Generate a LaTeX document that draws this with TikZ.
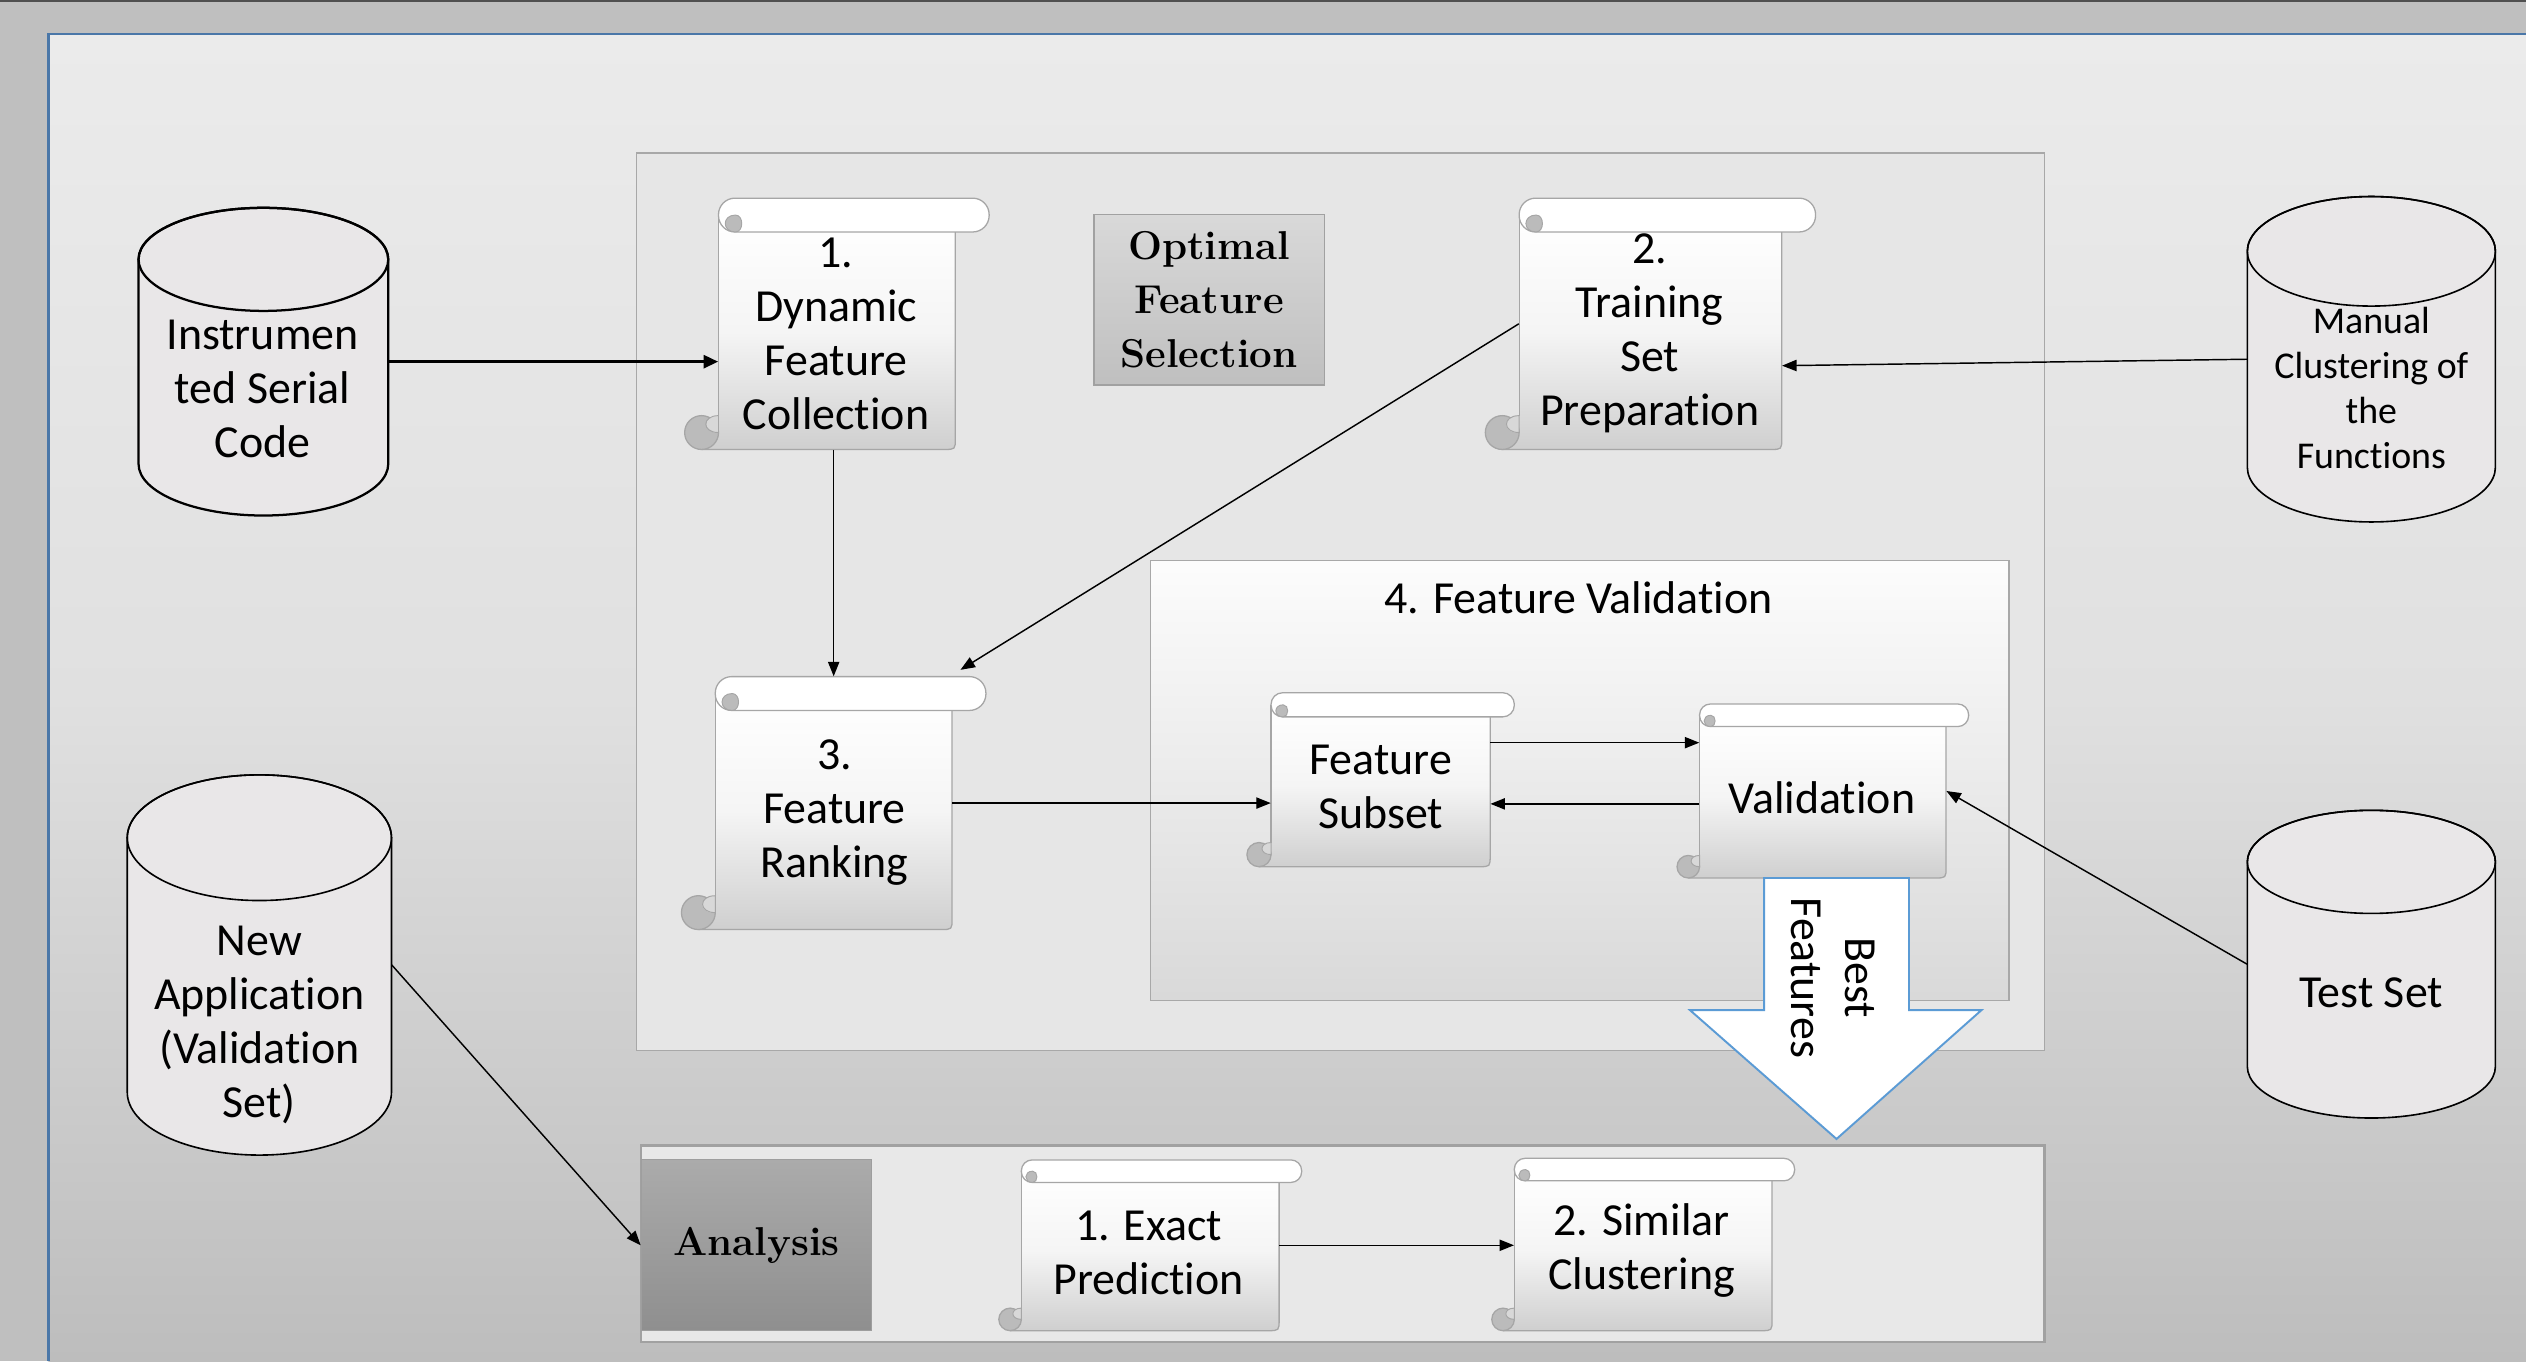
\documentclass[tikz,border=0pt]{standalone}
\usepackage{fontspec}
\newfontfamily\calfont[Ligatures={NoCommon}]{Carlito}
\usetikzlibrary{arrows.meta,calc}

\definecolor{wingray}{HTML}{BFBFBF}
\definecolor{topbar}{HTML}{505050}
\definecolor{slideblue}{HTML}{4A77A8}
\definecolor{slidetop}{HTML}{EBEBEB}
\definecolor{slidemid}{HTML}{E0E0E0}
\definecolor{slidebot}{HTML}{BDBDBD}
\definecolor{boxfill}{HTML}{E6E6E6}
\definecolor{boxline}{HTML}{A8A8A8}
\definecolor{scrolledge}{HTML}{A6A6A6}
\definecolor{scrollbot}{HTML}{CFCFCF}
\definecolor{curlfill}{HTML}{BBBBBB}
\definecolor{curlear}{HTML}{D8D8D8}
\definecolor{cylfill}{HTML}{E9E7E8}
\definecolor{arrowblue}{HTML}{5B9BD5}

\tikzset{
  conn/.style={draw=black, line width=0.9pt, -{Triangle[length=9pt,width=7pt]}},
  bigconn/.style={draw=black, line width=1.8pt, -{Triangle[length=9pt,width=8pt]}},
  sans/.style={font=\calfont\fontsize{28.5}{33.5}\selectfont, align=center, inner sep=0pt},
  smallsans/.style={font=\calfont\fontsize{23.5}{28}\selectfont, align=center, inner sep=0pt},
  serifbold/.style={font=\fontsize{25}{33.5}\selectfont\bfseries, align=center, inner sep=0pt},
  hook/.style={inner sep=0pt, draw=none},
}

% #1 L, #2 T, #3 R, #4 B, #5 roll height, #6 name
\newcommand{\scrollpaper}[6]{%
  \pgfmathsetmacro{\scH}{#5}%
  \pgfmathsetmacro{\scR}{#5/2}%
  \pgfmathsetmacro{\scRc}{#5/2-0.3}%
  \pgfmathsetmacro{\scW}{#3-#1}%
  \pgfmathsetmacro{\scHt}{#4-#2}%
  \shade[top color=white, bottom color=scrollbot, middle color=white!96!black]
    (#1,{#2+\scR}) -- (#1,{#4-\scR}) -- ({#1-\scR},{#4-\scR}) -- ({#1-\scR},#4)
    -- ({#3-7},#4) .. controls (#3,#4) .. (#3,{#4-7}) -- (#3,{#2+\scH}) -- cycle;
  \draw[scrolledge, line width=0.8pt] (#1,{#2+\scR}) -- (#1,{#4-\scH});
  \draw[scrolledge, line width=0.8pt] ({#1-\scR},#4) -- ({#3-7},#4) .. controls (#3,#4) .. (#3,{#4-7}) -- (#3,{#2+\scH});
  \filldraw[fill=curlfill, draw=scrolledge, line width=0.8pt] ({#1-\scR},{#4-\scR}) circle[radius=\scR];
  \filldraw[fill=curlear, draw=scrolledge, line width=0.6pt] (#1,{#4-\scH}) .. controls ({#1-0.5*\scH},{#4-\scH}) and ({#1-0.5*\scH},{#4-\scR}) .. (#1,{#4-\scR}) -- cycle;
  \filldraw[fill=white, draw=scrolledge, line width=0.8pt, rounded corners=\scRc pt] (#1,#2) rectangle ({#3+\scH},{#2+\scH});
  \filldraw[fill=curlfill, draw=scrolledge, line width=0.6pt] ({#1+\scR},{#2+\scH}) .. controls ({#1+0.1*\scH},{#2+\scH}) and ({#1+0.1*\scH},{#2+\scR}) .. ({#1+\scR},{#2+\scR}) .. controls ({#1+0.75*\scH},{#2+\scR}) and ({#1+0.75*\scH},{#2+\scH}) .. ({#1+\scR},{#2+\scH}) -- cycle;
  \node[hook, minimum width=\scW pt, minimum height=\scHt pt] (#6) at ({(#1+#3)/2},{(#2+#4)/2}) {};
}

% #1 name, #2 x1, #3 top, #4 x2, #5 bottom, #6 ry, #7 line width
\newcommand{\dbcyl}[7]{%
  \pgfmathsetmacro{\cyRX}{(#4-#2)/2}%
  \pgfmathsetmacro{\cyCX}{(#2+#4)/2}%
  \pgfmathsetmacro{\cyW}{#4-#2}%
  \pgfmathsetmacro{\cyHt}{#5-#3}%
  \filldraw[fill=cylfill, draw=black, line width=#7] (#2,{#3+#6}) -- (#2,{#5-#6})
    arc[start angle=180, end angle=0, x radius=\cyRX, y radius=#6] -- (#4,{#3+#6})
    arc[start angle=0, end angle=-180, x radius=\cyRX, y radius=#6] -- cycle;
  \draw[black, line width=#7] (\cyCX,{#3+#6}) ellipse[x radius=\cyRX, y radius=#6];
  \node[hook, minimum width=\cyW pt, minimum height=\cyHt pt] (#1) at (\cyCX,{(#3+#5)/2}) {};
}

\begin{document}
\begin{tikzpicture}[x=1pt,y=-1pt]
\useasboundingbox (0,0) rectangle (1568,845);
\fill[wingray] (0,0) rectangle (1568,845);
\fill[topbar] (0,0) rectangle (1568,1.5);
\shade[top color=slidetop, bottom color=slidebot, middle color=slidemid] (30,21) rectangle (1568,845);
\draw[slideblue, line width=1.5pt] (30,845) -- (30,21) -- (1568,21);

% containers
\node[draw=boxline, fill=boxfill, line width=0.9pt, minimum width=874pt, minimum height=557pt, inner sep=0pt] (OFS) at (832,373.5) {};
\node[draw=boxline, top color=white!99!black, bottom color=black!15, line width=0.9pt, minimum width=533pt, minimum height=273pt, inner sep=0pt] (FV) at (980.5,484.5) {};
\node[draw=black!37, fill=black!9, line width=1.6pt, minimum width=871pt, minimum height=122pt, inner sep=0pt] (AB) at (833.5,772) {};

% labels of the two stages
\node[serifbold, draw=black!37, top color=black!15, bottom color=black!25, line width=0.8pt, minimum width=143pt, minimum height=106pt] (OFSt) at (750.5,186) {Optimal\\Feature\\Selection};
\node[serifbold, draw=black!38, top color=black!33, bottom color=black!44, line width=0.6pt, minimum width=143pt, minimum height=106pt] (An) at (469.5,773) {Analysis};

% scrolls
\scrollpaper{446}{123}{593}{279}{21}{S1}
\scrollpaper{943}{123}{1106}{279}{21}{S2}
\scrollpaper{444}{420}{591}{577}{21}{S3}
\scrollpaper{789}{430}{925}{538}{15}{S4}
\scrollpaper{1055}{437}{1208}{545}{14}{V}
\scrollpaper{634}{720}{794}{826}{14}{S5}
\scrollpaper{940}{719}{1100}{826}{14}{S6}

% data stores
\dbcyl{C1}{86}{129}{241}{320}{32}{1.4pt}
\dbcyl{C2}{1395}{122}{1549}{324}{34}{1pt}
\dbcyl{C3}{79}{481}{243}{717}{39}{1pt}
\dbcyl{C4}{1395}{503}{1549}{694}{32}{1pt}

% texts
\node[sans] (S1t) at (519,207) {1.\\Dynamic\\Feature\\Collection};
\node[sans] (S2t) at (1024,207) {2.\\Training\\Set\\Preparation};
\node[sans] (S3t) at (518,504.5) {3.\\Feature\\Ranking};
\node[sans] (FVt) at (980,371) {4. Feature Validation};
\node[sans] (S4t) at (857,488.5) {Feature\\Subset};
\node[sans] (Vt) at (1131,495) {Validation};
\node[sans] (S5t) at (713,777.5) {1. Exact\\Prediction};
\node[sans] (S6t) at (1019,776.5) {2. Similar\\Clustering};
\node[sans] (C1t) at (163,241.5) {Instrumen\\ted Serial\\Code};
\node[smallsans] (C2t) at (1472,241) {Manual\\Clustering of\\the\\Functions};
\node[sans] (C3t) at (161,636) {New\\Application\\(Validation\\Set)};
\node[sans] (C4t) at (1472,616) {Test Set};

% connectors
\draw[bigconn] (C1.east) -- (C1.east -| S1.west);
\draw[conn] (S3.north |- S1.south) -- (S3.north);
\draw[conn] (S2.west) -- ([xshift=5pt,yshift=4pt]S3.north east);
\draw[conn] (C2.west) -- ([yshift=-26pt]S2.east);
\draw[conn] (S3.east) -- (S3.east -| S4.west);
\draw[conn] ([yshift=23pt]S4.east) -- ([yshift=23pt]S4.east -| V.west);
\draw[conn] ([yshift=-8pt]V.west) -- ([yshift=-8pt]V.west -| S4.east);
\draw[conn] (C4.west) -- (V.east);
\draw[conn] (C3.east) -- (An.west);
\draw[conn] (S5.east) -- (S5.east -| S6.west);

% best features block arrow
\filldraw[fill=white, draw=arrowblue, line width=1.2pt] (1095,545) -- (1185,545) -- (1185,627) -- (1230,627) -- (1140,707) -- (1049,627) -- (1095,627) -- cycle;
\node[sans, rotate=-90] (BFt) at (1138,607) {Best\\Features};
\end{tikzpicture}
\end{document}
